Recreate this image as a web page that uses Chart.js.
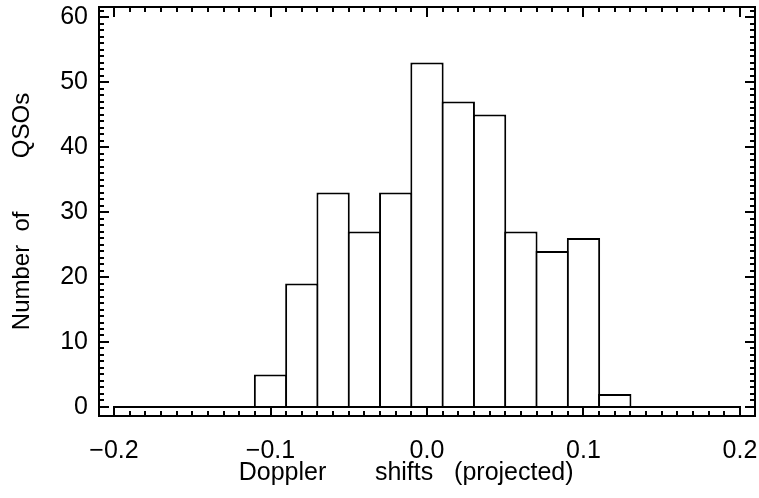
<!DOCTYPE html>
<html>
<head>
<meta charset="utf-8">
<script src="https://cdn.jsdelivr.net/npm/chart.js@4/dist/chart.umd.min.js"></script>
<style>
  body { margin: 0; background: #fff; }
</style>
</head>
<body>
<canvas id="myChart" width="759" height="498"></canvas>
<script>
// histogram bins (centre of each 0.02 wide bin) and counts
const binCenters = [-0.2, -0.18, -0.16, -0.14, -0.12, -0.1, -0.08, -0.06, -0.04, -0.02, 0,
  0.02, 0.04, 0.06, 0.08, 0.1, 0.12, 0.14, 0.16, 0.18, 0.2];
const counts = [0, 0, 0, 0, 0, 5, 19, 33, 27, 33, 53, 47, 45, 27, 24, 26, 2, 0, 0, 0, 0];

const xTickValues = [-0.2, -0.1, 0.0, 0.1, 0.2];
const xTickLabels = ['\u22120.2', '\u22120.1', '0.0', '0.1', '0.2'];
const yTickValues = [0, 10, 20, 30, 40, 50, 60];
const yTickLabels = ['0', '10', '20', '30', '40', '50', '60'];

const FONT = 'Liberation Sans';

// frame + inward tick marks on all four sides (IDL style)
const framePlugin = {
  id: 'frame',
  afterDatasetsDraw(chart) {
    const { ctx, chartArea: a, scales: { x, y } } = chart;
    ctx.save();
    ctx.strokeStyle = '#000';
    ctx.lineWidth = 2;
    ctx.lineCap = 'butt';
    ctx.strokeRect(a.left, a.top, a.right - a.left, a.bottom - a.top);
    ctx.beginPath();
    for (let i = -20; i <= 20; i++) {
      const v = i / 100;
      const px = Math.round(x.getPixelForValue(v));
      const len = i % 10 === 0 ? 10 : 5;
      ctx.moveTo(px, a.bottom); ctx.lineTo(px, a.bottom - len);
      ctx.moveTo(px, a.top); ctx.lineTo(px, a.top + len);
    }
    for (let v = 0; v <= 61; v++) {
      const py = Math.round(y.getPixelForValue(v));
      const len = v % 10 === 0 ? 10 : 5;
      ctx.moveTo(a.left, py); ctx.lineTo(a.left + len, py);
      ctx.moveTo(a.right, py); ctx.lineTo(a.right - len, py);
    }
    ctx.stroke();
    ctx.restore();
  }
};

new Chart(document.getElementById('myChart'), {
  type: 'bar',
  data: {
    datasets: [{
      type: 'line',
      data: [{ x: binCenters[0], y: 0 }, { x: binCenters[binCenters.length - 1], y: 0 }],
      borderColor: '#000',
      borderWidth: 2,
      pointRadius: 0,
      order: 0
    }, {
      data: binCenters.map((c, i) => ({ x: c, y: counts[i] })),
      backgroundColor: '#fff',
      borderColor: '#000',
      borderWidth: 2,
      categoryPercentage: 1,
      barPercentage: 1.064,
      order: 1
    }]
  },
  options: {
    responsive: false,
    animation: false,
    layout: { padding: { top: 7, right: 4, left: 0, bottom: 0 } },
    plugins: { legend: { display: false }, tooltip: { enabled: false } },
    scales: {
      x: {
        type: 'linear',
        offset: false,
        min: -0.2096,
        max: 0.2096,
        grid: { display: false, drawTicks: false },
        border: { display: false },
        afterBuildTicks: s => { s.ticks = xTickValues.map(v => ({ value: v })); },
        afterFit: s => { s.height = 82; s.paddingLeft = 0; s.paddingRight = 0; },
        ticks: {
          autoSkip: false,
          maxRotation: 0,
          padding: 20,
          color: '#000',
          font: { family: FONT, size: 25 },
          callback: (v, i) => xTickLabels[i]
        },
        title: {
          display: true,
          text: 'Doppler       shifts   (projected)      ',
          color: '#000',
          font: { family: FONT, size: 25 },
          padding: { top: 0, bottom: 10 }
        }
      },
      y: {
        min: -1.385,
        max: 61.54,
        grid: { display: false, drawTicks: false },
        border: { display: false },
        afterBuildTicks: s => { s.ticks = yTickValues.map(v => ({ value: v })); },
        afterFit: s => { s.width = 99; s.paddingTop = 0; s.paddingBottom = 0; },
        ticks: {
          padding: 11,
          color: '#000',
          font: { family: FONT, size: 25 },
          callback: (v, i) => yTickLabels[i]
        },
        title: {
          display: true,
          text: 'Number  of        QSOs',
          color: '#000',
          font: { family: FONT, size: 24 },
          padding: { top: 8, bottom: 0 }
        }
      }
    }
  },
  plugins: [framePlugin]
});
</script>
</body>
</html>
